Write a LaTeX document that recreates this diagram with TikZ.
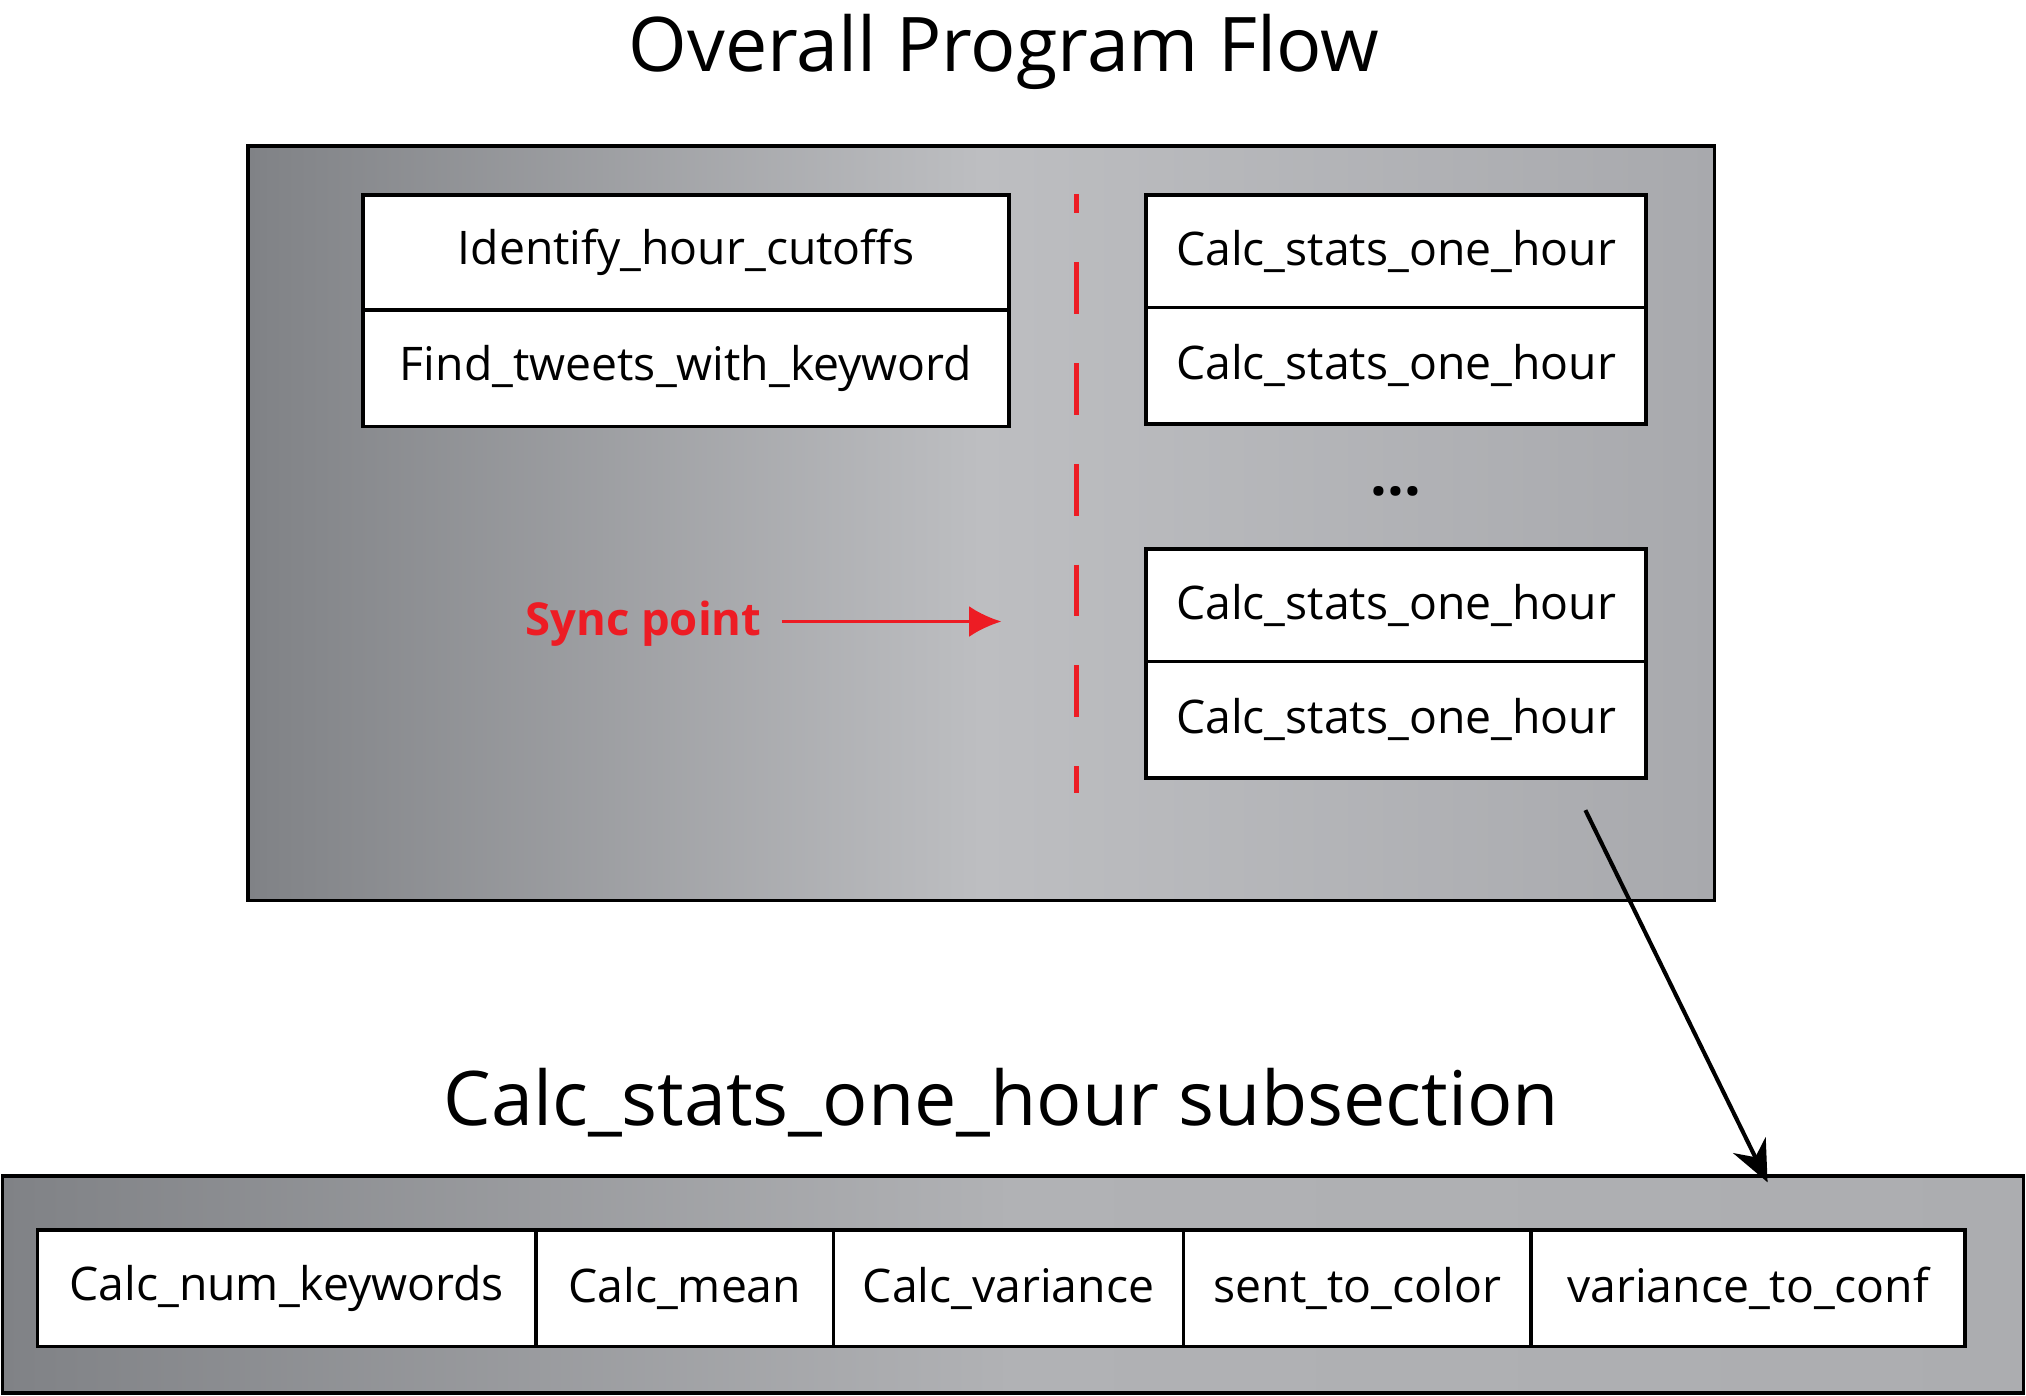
\documentclass[tikz,border=0pt]{standalone}
\usepackage{fontspec}
\setmainfont{Open Sans}
\usetikzlibrary{arrows.meta}
\definecolor{gA}{RGB}{128,130,134}
\definecolor{gB}{RGB}{189,190,193}
\definecolor{gC}{RGB}{168,169,173}
\definecolor{gD}{RGB}{177,178,181}
\definecolor{gE}{RGB}{172,173,176}
\definecolor{syncred}{RGB}{237,28,36}
\begin{document}
\begin{tikzpicture}[x=0.1mm,y=-0.1mm,
  panel/.style={draw=black, line width=0.8pt, left color=gA, right color=gC, middle color=gB, inner sep=0pt},
  subpanel/.style={draw=black, line width=0.8pt, left color=gA, right color=gE, middle color=gD, inner sep=0pt},
  cell/.style={draw=black, line width=0.8pt, fill=white, inner sep=0pt, font=\fontsize{10.2}{12}\selectfont},
  bigtitle/.style={font=\fontsize{16.6}{20}\selectfont, inner sep=0pt, anchor=base}]
\useasboundingbox (0,0) rectangle (1568,1080);
\node[bigtitle] (title) at (777,55) {Overall Program Flow};
\node[panel, minimum width=113.5mm, minimum height=58.4mm] (main) at (759.5,405) {};
% left stack
\node[cell, minimum width=50mm, minimum height=8.9mm] (ident) at (531,195.5) {Identify\_hour\_cutoffs};
\node[cell, minimum width=50mm, minimum height=9mm] (find) at (531,285) {Find\_tweets\_with\_keyword};
% right stacks
\node[cell, minimum width=38.7mm, minimum height=8.7mm] (c1) at (1080.5,194.5) {Calc\_stats\_one\_hour};
\node[cell, minimum width=38.7mm, minimum height=9mm] (c2) at (1080.5,283) {Calc\_stats\_one\_hour};
\node[font=\fontsize{13}{15}\selectfont\bfseries, inner sep=0pt] (dots) at (1080.5,380) {...};
\node[cell, minimum width=38.7mm, minimum height=8.7mm] (c3) at (1080.5,468.5) {Calc\_stats\_one\_hour};
\node[cell, minimum width=38.7mm, minimum height=9mm] (c4) at (1080.5,557) {Calc\_stats\_one\_hour};
% sync line
\coordinate (sa) at (833,150);
\coordinate (sb) at (833,614);
\draw[syncred, line width=1pt, dash pattern=on 4mm off 3.8mm, dash phase=2.5mm] (sa) -- (sb);
\node[text=syncred, font=\fontsize{10}{12}\selectfont\bfseries, inner sep=0pt] (sync) at (498,483) {Sync point};
\coordinate (syncend) at (775,481);
\draw[syncred, line width=0.8pt, -{Latex[length=2.5mm,width=2.4mm]}] ([xshift=1.5mm]sync.east |- syncend) -- (syncend);
% subsection
\node[bigtitle] (subtitle) at (775,871) {Calc\_stats\_one\_hour subsection};
\node[subpanel, minimum width=156.4mm, minimum height=16.8mm] (sub) at (784,994) {};
\node[cell, minimum width=38.6mm, minimum height=9mm] (b1) at (222,997) {Calc\_num\_keywords};
\node[cell, minimum width=23mm, minimum height=9mm] (b2) at (530,997) {Calc\_mean};
\node[cell, minimum width=27.1mm, minimum height=9mm] (b3) at (780.5,997) {Calc\_variance};
\node[cell, minimum width=26.9mm, minimum height=9mm] (b4) at (1050.5,997) {sent\_to\_color};
\node[cell, minimum width=33.6mm, minimum height=9mm] (b5) at (1353,997) {variance\_to\_conf};
% zoom arrow
\coordinate (za) at (1227,627);
\coordinate (zb) at (1368,915);
\draw[line width=0.9pt, -{Stealth[length=3.2mm,width=2.8mm]}] (za) -- (zb);
\end{tikzpicture}
\end{document}
